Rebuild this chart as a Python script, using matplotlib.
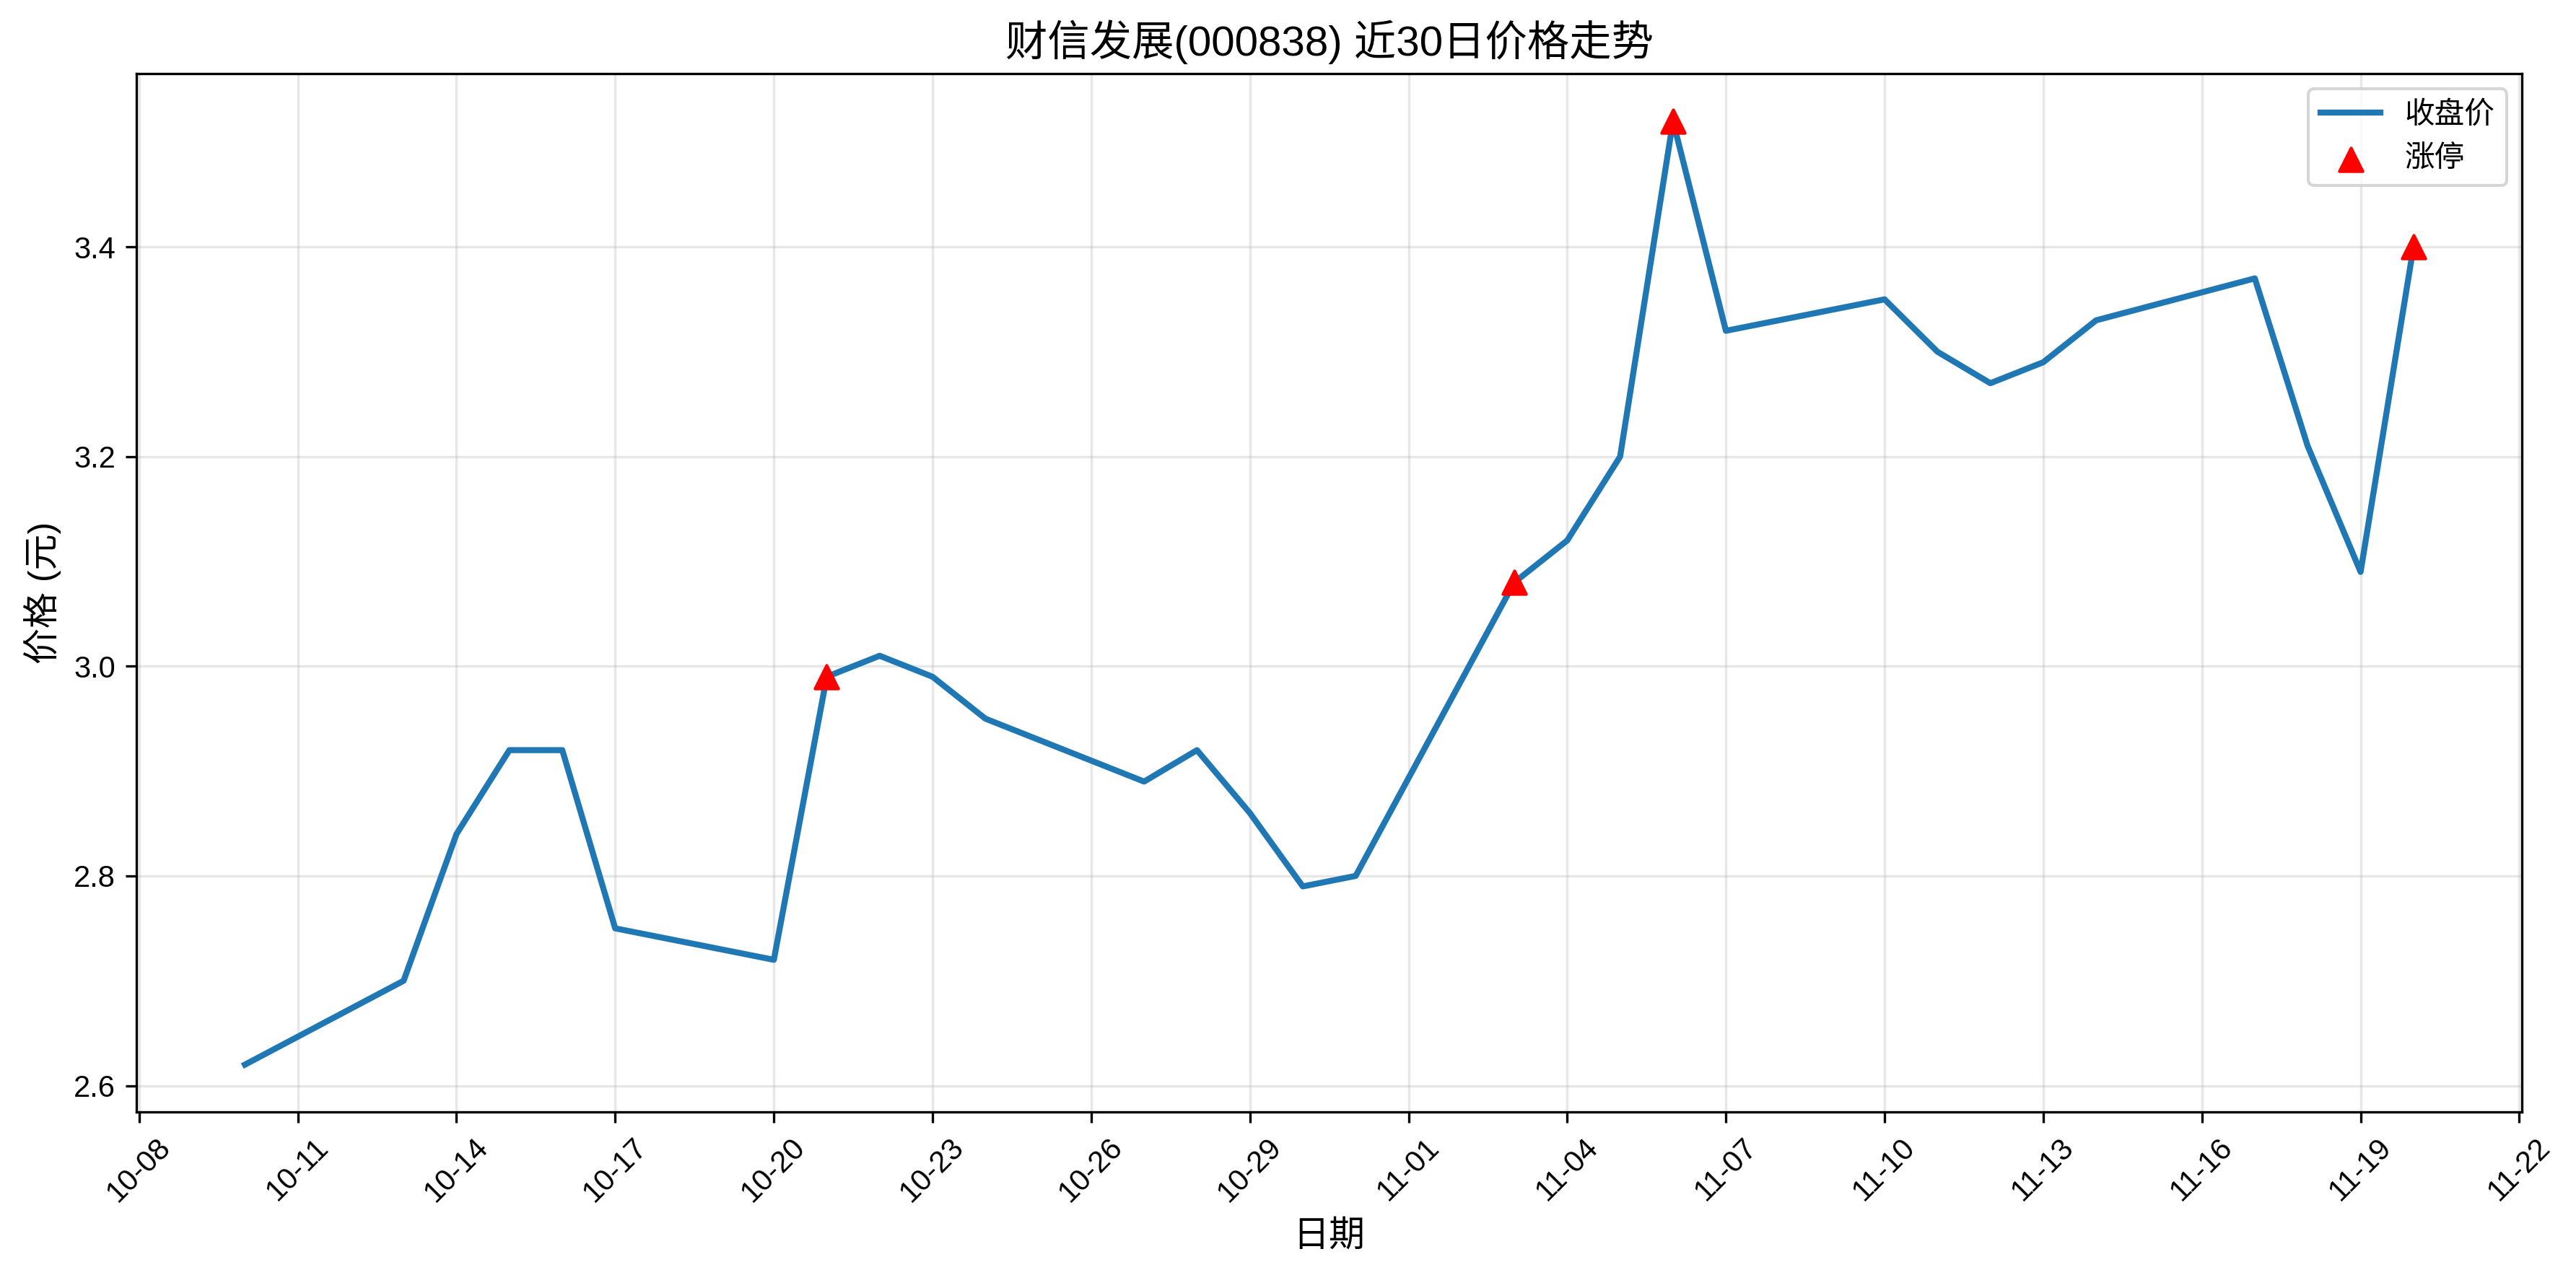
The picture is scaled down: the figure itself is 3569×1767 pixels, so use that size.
import pandas as pd
import numpy as np
import matplotlib
matplotlib.use("Agg")
import matplotlib.pyplot as plt
import matplotlib.dates as mdates

plt.rcParams['font.family'] = ['Liberation Sans', 'Noto Sans CJK SC', 'DejaVu Sans']
plt.rcParams['axes.unicode_minus'] = False

dates = ["2025-10-10", "2025-10-13", "2025-10-14", "2025-10-15", "2025-10-16",
         "2025-10-17", "2025-10-20", "2025-10-21", "2025-10-22", "2025-10-23",
         "2025-10-24", "2025-10-27", "2025-10-28", "2025-10-29", "2025-10-30",
         "2025-10-31", "2025-11-03", "2025-11-04", "2025-11-05", "2025-11-06",
         "2025-11-07", "2025-11-10", "2025-11-11", "2025-11-12", "2025-11-13",
         "2025-11-14", "2025-11-17", "2025-11-18", "2025-11-19", "2025-11-20"]
close = [2.62, 2.70, 2.84, 2.92, 2.92,
         2.75, 2.72, 2.99, 3.01, 2.99,
         2.95, 2.89, 2.92, 2.86, 2.79,
         2.80, 3.08, 3.12, 3.20, 3.52,
         3.32, 3.35, 3.30, 3.27, 3.29,
         3.33, 3.37, 3.21, 3.09, 3.40]
limit_up = ["2025-10-21", "2025-11-03", "2025-11-06", "2025-11-20"]

df = pd.DataFrame({"date": pd.to_datetime(dates), "close": close})
up = df[df["date"].isin(pd.to_datetime(limit_up))]

fig, ax = plt.subplots(figsize=(3569 / 300, 1767 / 300), dpi=300)
ax.plot(df["date"], df["close"], color="#1f77b4", linewidth=2, label="收盘价")
ax.scatter(up["date"], up["close"], color="red", marker="^", s=60, zorder=5, label="涨停")

ax.set_title("财信发展(000838) 近30日价格走势", fontsize=14)
ax.set_xlabel("日期", fontsize=12)
ax.set_ylabel("价格 (元)", fontsize=12)
ax.grid(True, alpha=0.3)
ax.legend(loc="upper right")

ax.set_xticks(pd.date_range("2025-10-08", "2025-11-22", freq="3D"))
ax.xaxis.set_major_formatter(mdates.DateFormatter("%m-%d"))
plt.setp(ax.get_xticklabels(), rotation=45)

fig.subplots_adjust(left=0.053, right=0.979, top=0.942, bottom=0.128)
fig.savefig("out.png", dpi=300)
